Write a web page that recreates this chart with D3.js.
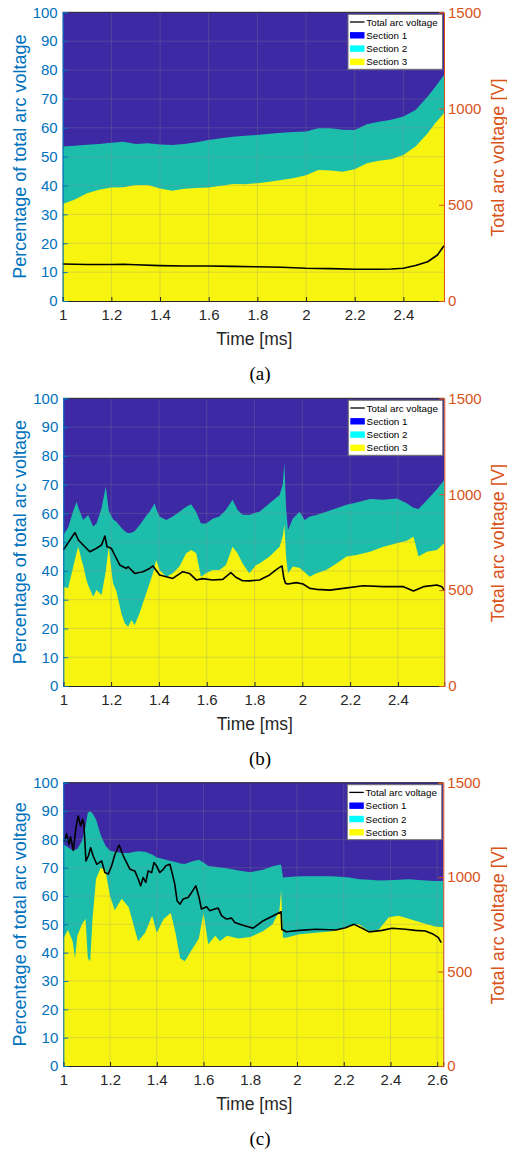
<!DOCTYPE html>
<html>
<head>
<meta charset="utf-8">
<script src="https://cdn.jsdelivr.net/npm/d3@7"></script>
<style>
  body { margin: 0; background: #fff; }
  svg { display: block; }
</style>
</head>
<body>
<script>
// data: sec3 = share of section 3 (bottom), sec2 = share of section 2 (middle), rest is section 1
var timeA = [1.0, 1.05, 1.1, 1.15, 1.2, 1.25, 1.3, 1.35, 1.4, 1.45, 1.5, 1.55, 1.6, 1.65, 1.7, 1.75, 1.8, 1.85, 1.9, 1.95,
  2.0, 2.05, 2.1, 2.15, 2.2, 2.25, 2.3, 2.35, 2.4, 2.45, 2.5, 2.53, 2.567];
var sec3A = [33.6, 35.2, 37.3, 38.5, 39.3, 39.4, 40.2, 40.2, 39.0, 38.2, 38.9, 39.1, 39.3, 39.9, 40.5, 40.4, 40.8, 41.3, 41.9, 42.6,
  43.6, 45.4, 45.2, 44.8, 45.6, 47.7, 48.6, 49.1, 50.6, 53.5, 58.1, 61.5, 65.0];
var sec2A = [19.9, 18.6, 16.8, 15.9, 15.5, 15.8, 14.2, 14.4, 15.2, 15.8, 15.5, 15.9, 16.5, 16.5, 16.4, 16.8, 16.7, 16.6, 16.4, 15.9,
  15.1, 14.4, 14.6, 14.5, 13.6, 13.5, 13.5, 13.7, 13.3, 12.7, 12.7, 12.5, 13.3];
var vTimeA = [1.0, 1.1, 1.2, 1.25, 1.3, 1.4, 1.5, 1.6, 1.7, 1.8, 1.9, 2.0, 2.1, 2.2, 2.3, 2.35, 2.4, 2.45, 2.5, 2.54, 2.567];
var voltA = [192, 190, 190, 191, 188, 184, 182, 182, 180, 178, 175, 170, 168, 165, 165, 166, 170, 184, 204, 239, 287];

var timeB = [1.0, 1.02, 1.042, 1.056, 1.063, 1.076, 1.083, 1.097, 1.104, 1.125, 1.139, 1.16, 1.178, 1.19, 1.208, 1.222,
  1.243, 1.257, 1.271, 1.285, 1.299, 1.319, 1.347, 1.361, 1.375, 1.382, 1.389, 1.403, 1.431, 1.458, 1.486, 1.514,
  1.535, 1.556, 1.576, 1.597, 1.625, 1.653, 1.68, 1.708, 1.729, 1.75, 1.778, 1.806, 1.821, 1.863, 1.905, 1.918,
  1.925, 1.932, 1.94, 1.961, 1.989, 2.01, 2.031, 2.059, 2.1, 2.143, 2.185, 2.227, 2.283, 2.339, 2.395, 2.437,
  2.465, 2.486, 2.521, 2.563, 2.594];
var sec3B = [34.5, 34.0, 41.5, 46.5, 48.4, 43.8, 42.0, 36.8, 35.0, 31.0, 33.4, 31.6, 40.0, 48.4, 35.7, 33.0,
  25.3, 21.8, 20.6, 22.9, 21.2, 25.3, 32.2, 35.7, 39.2, 41.5, 43.8, 40.3, 38.0, 39.2, 41.5, 46.1,
  47.3, 46.1, 38.0, 39.2, 40.3, 40.3, 42.0, 48.4, 46.1, 42.6, 39.2, 42.0, 42.6, 45.0, 48.4, 52.0,
  56.0, 45.0, 39.2, 41.5, 41.0, 39.5, 38.0, 39.2, 40.3, 42.6, 45.0, 45.5, 46.7, 48.4, 49.6, 50.5,
  51.9, 45.0, 46.7, 47.3, 49.6];
var sec2B = [18.0, 21.0, 19.5, 17.5, 13.6, 15.5, 15.7, 22.0, 24.4, 24.4, 23.1, 30.2, 29.3, 12.6, 22.3, 24.1,
  29.7, 32.0, 32.5, 30.4, 32.7, 30.6, 27.0, 24.9, 23.3, 22.0, 17.7, 18.6, 19.7, 19.7, 19.1, 16.2,
  15.9, 14.4, 18.5, 17.3, 17.8, 18.6, 19.2, 16.3, 15.1, 16.9, 20.2, 18.3, 18.0, 18.5, 18.0, 18.0,
  21.4, 17.0, 15.0, 16.8, 19.6, 18.2, 20.9, 20.2, 20.3, 19.2, 18.0, 18.3, 18.3, 16.3, 15.6, 13.0,
  10.1, 16.5, 17.9, 21.1, 22.0];
var vTimeB = [1.0, 1.028, 1.049, 1.063, 1.083, 1.111, 1.139, 1.16, 1.174, 1.183, 1.201, 1.215, 1.236, 1.264, 1.271,
  1.299, 1.333, 1.361, 1.375, 1.403, 1.431, 1.458, 1.5, 1.528, 1.556, 1.583, 1.625, 1.667, 1.701, 1.722, 1.75,
  1.778, 1.821, 1.863, 1.898, 1.915, 1.923, 1.93, 1.94, 1.975, 2.003, 2.031, 2.059, 2.115, 2.171, 2.255, 2.339,
  2.423, 2.465, 2.507, 2.563, 2.584, 2.594];
var voltB = [709, 761, 800, 761, 735, 700, 718, 735, 782, 726, 718, 683, 631, 613, 622,
  587, 596, 613, 626, 579, 570, 561, 596, 587, 553, 560, 553, 556, 591, 567, 549,
  548, 553, 579, 613, 626, 560, 535, 532, 539, 532, 509, 504, 500, 509, 523, 518,
  518, 495, 518, 527, 518, 497];

var timeC = [1.0, 1.02, 1.04, 1.05, 1.06, 1.08, 1.095, 1.105, 1.115, 1.125, 1.14, 1.16, 1.18, 1.2, 1.22, 1.25,
  1.28, 1.3, 1.32, 1.35, 1.38, 1.4, 1.43, 1.46, 1.48, 1.5, 1.52, 1.55, 1.58, 1.6, 1.62, 1.65, 1.67, 1.7,
  1.75, 1.8, 1.854, 1.896, 1.925, 1.932, 1.94, 1.953, 2.01, 2.081, 2.15, 2.223, 2.265, 2.31, 2.35, 2.393,
  2.435, 2.478, 2.535, 2.59, 2.626];
var sec3C = [45, 48, 44, 38, 46, 50, 52, 38, 37, 52, 66, 70, 69, 60, 55, 59,
  56, 50, 44, 47, 53, 47, 52, 54, 47, 38, 37, 41, 45, 54, 43, 46, 44, 46,
  45, 45.5, 47.6, 50, 55, 62, 45.3, 45.3, 46.5, 47, 47.6, 49.4, 50, 47.6, 48.2, 52.5,
  53, 52, 50.6, 49.2, 49];
var sec2C = [33.3, 29.2, 32.1, 38.3, 30.6, 29.5, 32.5, 51.5, 52.8, 37.2, 21, 11.5, 8.8, 16, 20.6, 16.2,
  19.2, 25.5, 31.8, 28.6, 21.7, 26.6, 21, 18.4, 25, 33.5, 34.3, 31.2, 27.8, 17.8, 27.6, 24.3, 26.1, 23.8,
  24, 22.9, 21.7, 20.5, 16, 9, 21.2, 21.3, 20.5, 20, 19.4, 17.1, 15.9, 18.1, 17.3, 13.1,
  12.7, 13.9, 15, 16.1, 16.3];
var vTimeC = [1.0, 1.006, 1.014, 1.024, 1.031, 1.043, 1.054, 1.064, 1.074, 1.083, 1.088, 1.097, 1.107, 1.117, 1.128,
  1.143, 1.164, 1.178, 1.192, 1.207, 1.221, 1.239, 1.257, 1.271, 1.285, 1.306, 1.321, 1.331, 1.342, 1.353, 1.363,
  1.378, 1.388, 1.399, 1.413, 1.428, 1.439, 1.456, 1.467, 1.477, 1.487, 1.499, 1.513, 1.534, 1.549, 1.567, 1.581,
  1.591, 1.613, 1.627, 1.648, 1.663, 1.677, 1.698, 1.72, 1.734, 1.762, 1.791, 1.812, 1.854, 1.896, 1.932, 1.935,
  1.953, 2.01, 2.081, 2.166, 2.208, 2.244, 2.279, 2.308, 2.364, 2.407, 2.464, 2.506, 2.549, 2.584, 2.605, 2.617];
var voltC = [1192, 1192, 1230, 1174, 1213, 1142, 1262, 1324, 1271, 1306, 1280, 1086, 1112, 1156, 1112,
  1068, 1086, 1024, 1016, 1060, 1121, 1170, 1112, 1077, 1042, 1033, 989, 954, 998, 972, 1033,
  1024, 1077, 1060, 1024, 1042, 1060, 1068, 1016, 963, 875, 857, 884, 892, 919, 954, 892,
  831, 843, 822, 831, 836, 796, 778, 783, 760, 748, 737, 730, 768, 794, 817, 724,
  711, 718, 724, 720, 732, 750, 729, 710, 718, 729, 724, 718, 715, 697, 680, 653];

var xTicksAB = [1, 1.2, 1.4, 1.6, 1.8, 2, 2.2, 2.4];
var xTicksC = [1, 1.2, 1.4, 1.6, 1.8, 2, 2.2, 2.4, 2.6];
var pctTicks = [0, 10, 20, 30, 40, 50, 60, 70, 80, 90, 100];
var voltTicks = [0, 500, 1000, 1500];
var legendLabels = ['Total arc voltage', 'Section 1', 'Section 2', 'Section 3'];
var panelLabels = ['(a)', '(b)', '(c)'];

var colors = { s1: '#3d29a4', s2: '#1dbdac', s3: '#f7f510' };
var legendColors = ['#000000', '#0000ff', '#00ffff', '#ffff00'];
var blue = '#0072bd', orange = '#d95319', dark = '#262626';
var font = '"Liberation Sans", Arial, sans-serif';

var svg = d3.select('body').append('svg')
  .attr('width', 507)
  .attr('height', 1151);

var panels = [
  { t: timeA, s3: sec3A, s2: sec2A, vt: vTimeA, v: voltA, xEnd: 2.567, ticks: xTicksAB,
    left: 62.7, right: 444, top: 12.3, bottom: 301, label: panelLabels[0], labelY: 380 },
  { t: timeB, s3: sec3B, s2: sec2B, vt: vTimeB, v: voltB, xEnd: 2.594, ticks: xTicksAB,
    left: 63.3, right: 444.3, top: 398.3, bottom: 686, label: panelLabels[1], labelY: 765 },
  { t: timeC, s3: sec3C, s2: sec2C, vt: vTimeC, v: voltC, xEnd: 2.626, ticks: xTicksC,
    left: 63.3, right: 443.3, top: 782.7, bottom: 1066, label: panelLabels[2], labelY: 1145 }
];

panels.forEach(function(p) {
  var x = d3.scaleLinear().domain([1, p.xEnd]).range([p.left, p.right]);
  var y = d3.scaleLinear().domain([0, 100]).range([p.bottom, p.top]);
  var yv = d3.scaleLinear().domain([0, 1500]).range([p.bottom, p.top]);

  var rows = p.t.map(function(t, i) {
    return { t: t, s3: p.s3[i], s2: p.s2[i], s1: 100 - p.s3[i] - p.s2[i] };
  });
  var series = d3.stack().keys(['s3', 's2', 's1'])(rows);

  // each area filled from 0 up to its stacked top, drawn top layer first, so no seams
  var area = d3.area()
    .x(function(d) { return x(d.data.t); })
    .y0(p.bottom)
    .y1(function(d) { return y(d[1]); });

  var g = svg.append('g');
  g.selectAll('path.sec')
    .data(series.slice().reverse())
    .enter()
    .append('path')
    .attr('class', 'sec')
    .attr('d', area)
    .style('fill', function(d) { return colors[d.key]; });

  // grid
  g.selectAll('line.gx')
    .data(p.ticks.slice(1))
    .enter().append('line')
    .attr('x1', function(d) { return x(d); })
    .attr('x2', function(d) { return x(d); })
    .attr('y1', p.top).attr('y2', p.bottom)
    .style('stroke', '#8c8c8c').style('stroke-opacity', 0.35).style('stroke-width', 0.8);
  g.selectAll('line.gy')
    .data(pctTicks.slice(1, -1))
    .enter().append('line')
    .attr('x1', p.left).attr('x2', p.right)
    .attr('y1', function(d) { return y(d); })
    .attr('y2', function(d) { return y(d); })
    .style('stroke', '#8c8c8c').style('stroke-opacity', 0.35).style('stroke-width', 0.8);

  // voltage line
  var line = d3.line()
    .x(function(d, i) { return x(p.vt[i]); })
    .y(function(d) { return yv(d); });
  g.append('path')
    .attr('d', line(p.v))
    .style('fill', 'none')
    .style('stroke', '#000')
    .style('stroke-width', 1.6)
    .style('stroke-linejoin', 'round');

  // box top
  g.append('line')
    .attr('x1', p.left).attr('x2', p.right)
    .attr('y1', p.top).attr('y2', p.top)
    .style('stroke', dark).style('stroke-width', 1);

  // axes
  var xAxis = g.append('g')
    .attr('transform', 'translate(0,' + p.bottom + ')')
    .call(d3.axisBottom(x).tickValues(p.ticks).tickSize(-4).tickPadding(8)
      .tickFormat(d3.format('')));
  xAxis.select('.domain').style('stroke', dark);
  xAxis.selectAll('.tick line').style('stroke', dark);
  xAxis.selectAll('text').style('fill', dark).style('font-family', font).style('font-size', '15px');

  var yAxis = g.append('g')
    .attr('transform', 'translate(' + p.left + ',0)')
    .call(d3.axisLeft(y).tickValues(pctTicks).tickSize(-5).tickPadding(5));
  yAxis.select('.domain').style('stroke', blue);
  yAxis.selectAll('.tick line').style('stroke', blue);
  yAxis.selectAll('text').style('fill', blue).style('font-family', font).style('font-size', '15px');

  var vAxis = g.append('g')
    .attr('transform', 'translate(' + p.right + ',0)')
    .call(d3.axisRight(yv).tickValues(voltTicks).tickSize(-5).tickPadding(4)
      .tickFormat(d3.format('d')));
  vAxis.select('.domain').style('stroke', orange);
  vAxis.selectAll('.tick line').style('stroke', orange);
  vAxis.selectAll('text').style('fill', orange).style('font-family', font).style('font-size', '15px');

  var midY = (p.top + p.bottom) / 2;
  g.append('text')
    .attr('transform', 'translate(26,' + midY + ') rotate(-90)')
    .attr('text-anchor', 'middle')
    .style('font-family', font).style('font-size', '18px').style('fill', blue)
    .text('Percentage of total arc voltage');
  g.append('text')
    .attr('transform', 'translate(504,' + (midY + 1) + ') rotate(-90)')
    .attr('text-anchor', 'middle')
    .style('font-family', font).style('font-size', '18px').style('fill', orange)
    .text('Total arc voltage [V]');
  g.append('text')
    .attr('x', (p.left + p.right) / 2 + 1)
    .attr('y', p.bottom + 44)
    .attr('text-anchor', 'middle')
    .style('font-family', font).style('font-size', '17.5px').style('fill', dark)
    .text('Time [ms]');
  g.append('text')
    .attr('x', 260)
    .attr('y', p.labelY)
    .attr('text-anchor', 'middle')
    .style('font-family', '"Liberation Serif", "Times New Roman", serif').style('font-size', '19px').style('fill', '#000')
    .text(p.label);

  // legend
  var lg = g.append('g')
    .attr('transform', 'translate(' + (p.right - 96) + ',' + (p.top + 2) + ')');
  lg.append('rect')
    .attr('width', 94.5).attr('height', 55)
    .style('fill', '#fff').style('stroke', '#6e6e6e').style('stroke-width', 1);
  legendLabels.forEach(function(lab, i) {
    var cy = 7.7 + i * 13.3;
    if (i === 0) {
      lg.append('line')
        .attr('x1', 2).attr('x2', 16.5).attr('y1', cy).attr('y2', cy)
        .style('stroke', legendColors[i]).style('stroke-width', 1.3);
    } else {
      lg.append('rect')
        .attr('x', 2).attr('y', cy - 3.2).attr('width', 14.5).attr('height', 6.4)
        .style('fill', legendColors[i]);
    }
    lg.append('text')
      .attr('x', 18.3).attr('y', cy + 3.6)
      .style('font-family', font).style('font-size', '9.8px').style('fill', '#000')
      .text(lab);
  });
});
</script>
</body>
</html>
